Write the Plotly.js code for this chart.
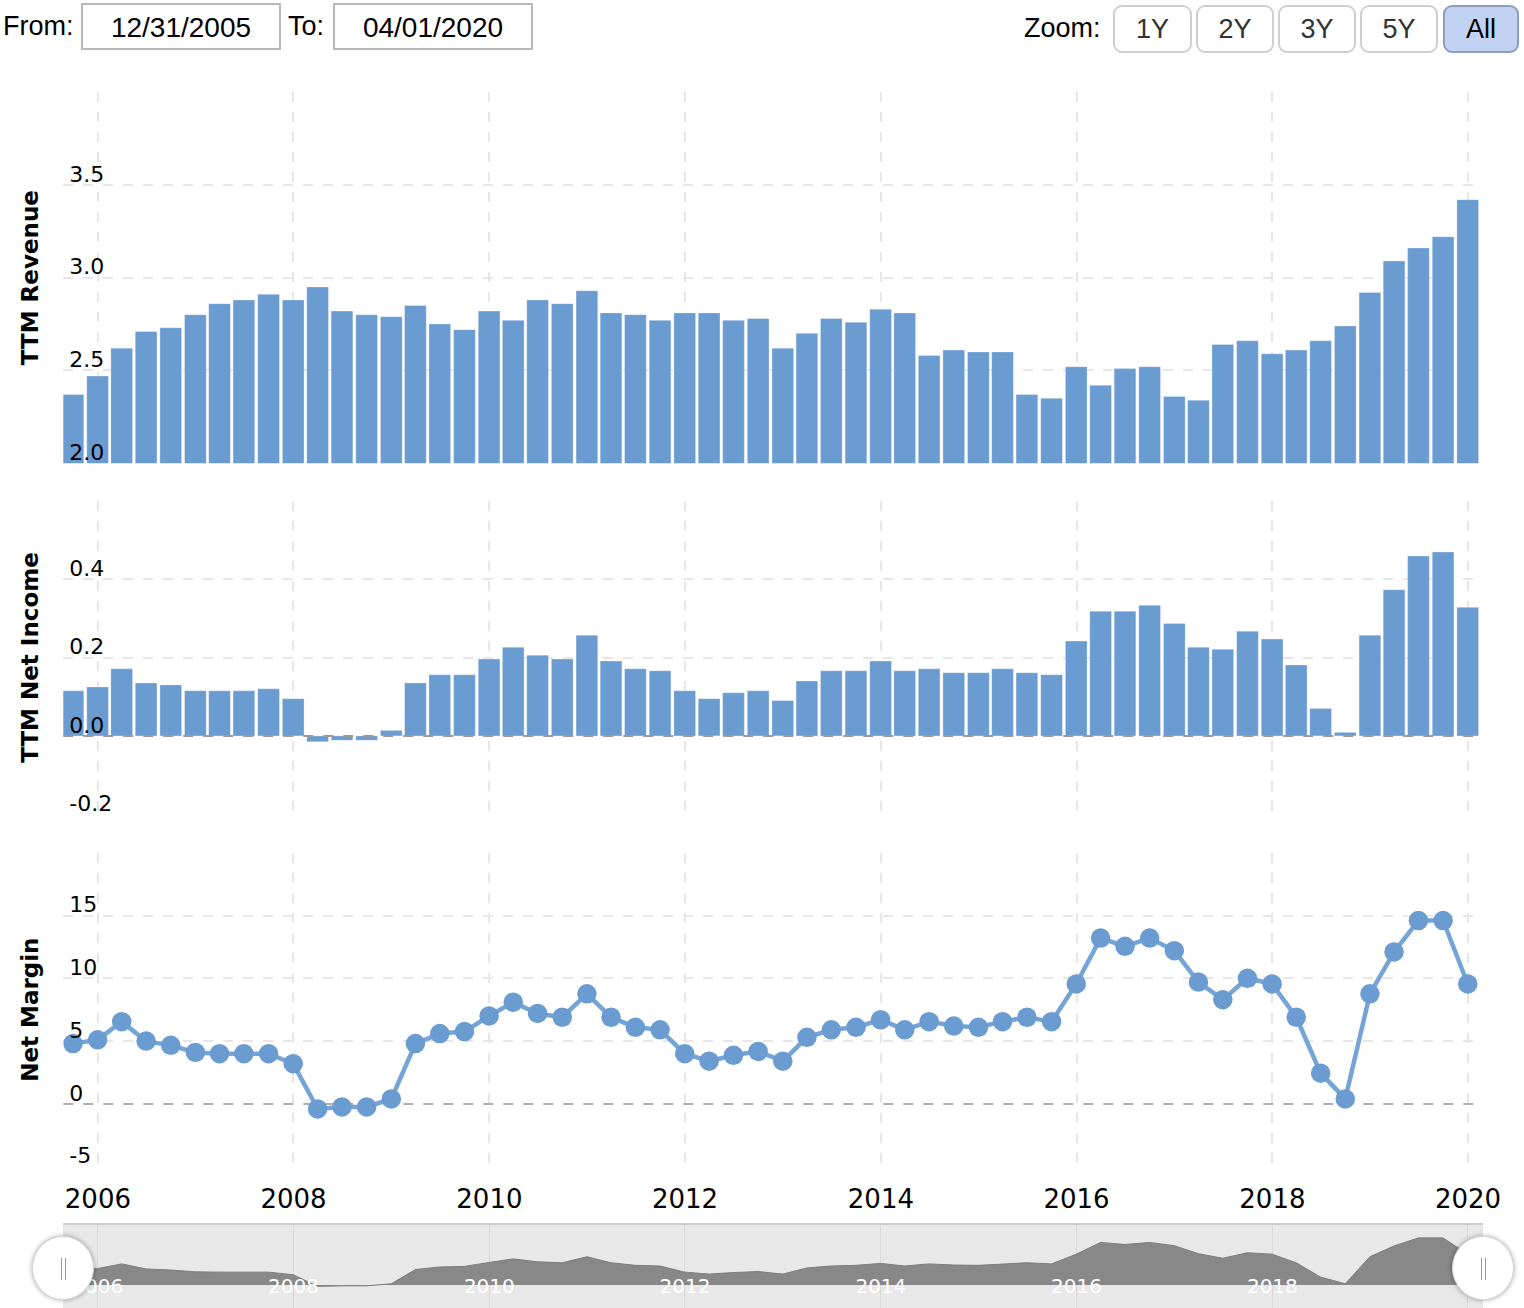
<!DOCTYPE html>
<html>
<head>
<meta charset="utf-8">
<script src="https://cdn.plot.ly/plotly-3.0.1.min.js"></script>
<style>
  html, body { margin: 0; padding: 0; background: #fff; overflow: hidden; }
  #wrap { position: relative; width: 1524px; height: 1308px; }
  #chart { position: absolute; left: 0; top: 0; width: 1524px; height: 1308px; }
  .lbl { position: absolute; font-family: 'Liberation Sans', Arial, sans-serif; font-size: 27px; color: #000; line-height: 1; }
  .box { position: absolute; top: 3px; height: 43px; width: 196px; border: 2px solid #b9b9b9; box-sizing: content-box;
         font-family: 'Liberation Sans', Arial, sans-serif; font-size: 28px; color: #000; text-align: center; line-height: 45px; background: #fff; }
  .btn { position: absolute; top: 5px; height: 44px; border: 2px solid #cfcfcf; border-radius: 9px; background: #fff;
         font-family: 'Liberation Sans', Arial, sans-serif; font-size: 27px; color: #333; text-align: center; line-height: 44px; box-sizing: content-box; }
  .btn.sel { background: #c2d2f2; border-color: #8e9dbf; color: #000; }
  .handle { position: absolute; width: 62px; height: 64px; border-radius: 50%; background: #fff;
            box-shadow: 0 0 5px rgba(0,0,0,0.35); border: 1px solid #d6d6d6; box-sizing: border-box; z-index: 5; }
  .handle .bar1, .handle .bar2 { position: absolute; top: 21px; width: 1px; height: 22px; background: #999; }
  .handle .bar1 { left: 28px; } .handle .bar2 { left: 32px; }
</style>
</head>
<body>
<div id="wrap">
  <div id="chart"></div>
  <div class="lbl" style="left:3px; top:13px;">From:</div>
  <div class="box" style="left:81px;">12/31/2005</div>
  <div class="lbl" style="left:288px; top:13px;">To:</div>
  <div class="box" style="left:333px;">04/01/2020</div>
  <div class="lbl" style="left:1024px; top:15px;">Zoom:</div>
  <div class="btn" style="left:1113px; width:75px;">1Y</div>
  <div class="btn" style="left:1196px; width:74px;">2Y</div>
  <div class="btn" style="left:1278px; width:74px;">3Y</div>
  <div class="btn" style="left:1360px; width:74px;">5Y</div>
  <div class="btn sel" style="left:1443px; width:72px;">All</div>
  <div class="handle" style="left:32px; top:1236px;"><div class="bar1"></div><div class="bar2"></div></div>
  <div class="handle" style="left:1452px; top:1236px;"><div class="bar1"></div><div class="bar2"></div></div>
</div>
<script>
// ---- data (quarter-end dates) ----
const dates = [
  '2005-09-30','2005-12-31',
  '2006-03-31','2006-06-30','2006-09-30','2006-12-31',
  '2007-03-31','2007-06-30','2007-09-30','2007-12-31',
  '2008-03-31','2008-06-30','2008-09-30','2008-12-31',
  '2009-03-31','2009-06-30','2009-09-30','2009-12-31',
  '2010-03-31','2010-06-30','2010-09-30','2010-12-31',
  '2011-03-31','2011-06-30','2011-09-30','2011-12-31',
  '2012-03-31','2012-06-30','2012-09-30','2012-12-31',
  '2013-03-31','2013-06-30','2013-09-30','2013-12-31',
  '2014-03-31','2014-06-30','2014-09-30','2014-12-31',
  '2015-03-31','2015-06-30','2015-09-30','2015-12-31',
  '2016-03-31','2016-06-30','2016-09-30','2016-12-31',
  '2017-03-31','2017-06-30','2017-09-30','2017-12-31',
  '2018-03-31','2018-06-30','2018-09-30','2018-12-31',
  '2019-03-31','2019-06-30','2019-09-30','2019-12-31'
];
const ttmRevenue = [
  2.37, 2.47,
  2.62, 2.71, 2.73, 2.80,
  2.86, 2.88, 2.91, 2.88,
  2.95, 2.82, 2.80, 2.79,
  2.85, 2.75, 2.72, 2.82,
  2.77, 2.88, 2.86, 2.93,
  2.81, 2.80, 2.77, 2.81,
  2.81, 2.77, 2.78, 2.62,
  2.70, 2.78, 2.76, 2.83,
  2.81, 2.58, 2.61, 2.60,
  2.60, 2.37, 2.35, 2.52,
  2.42, 2.51, 2.52, 2.36,
  2.34, 2.64, 2.66, 2.59,
  2.61, 2.66, 2.74, 2.92,
  3.09, 3.16, 3.22, 3.42
];
const ttmNetIncome = [
  0.115, 0.125,
  0.171, 0.135, 0.130, 0.115,
  0.115, 0.115, 0.120, 0.095,
  -0.015, -0.011, -0.011, 0.014,
  0.135, 0.156, 0.156, 0.196,
  0.226, 0.206, 0.196, 0.257,
  0.191, 0.171, 0.166, 0.115,
  0.095, 0.110, 0.115, 0.090,
  0.140, 0.166, 0.166, 0.191,
  0.166, 0.171, 0.161, 0.161,
  0.171, 0.161, 0.156, 0.242,
  0.318, 0.318, 0.333, 0.287,
  0.226, 0.221, 0.267, 0.247,
  0.181, 0.070, 0.009, 0.257,
  0.373, 0.459, 0.469, 0.328
];
const netMargin = [
  4.80, 5.10,
  6.55, 5.00, 4.66, 4.10,
  4.00, 4.00, 4.00, 3.20,
  -0.40, -0.24, -0.24, 0.40,
  4.80, 5.60, 5.76, 7.00,
  8.10, 7.20, 6.90, 8.76,
  6.90, 6.10, 5.90, 4.00,
  3.40, 3.87, 4.18, 3.40,
  5.30, 5.90, 6.10, 6.70,
  5.90, 6.55, 6.20, 6.10,
  6.55, 6.90, 6.55, 9.55,
  13.20, 12.55, 13.20, 12.20,
  9.70, 8.30, 10.00, 9.55,
  6.90, 2.45, 0.40, 8.76,
  12.10, 14.60, 14.60, 9.55
];
const revTickVals = [2.0, 2.5, 3.0, 3.5, 4.0];
const revTickText = ['2.0', '2.5', '3.0', '3.5', ''];
const niTickVals = [-0.2, 0.0, 0.2, 0.4, 0.6];
const niTickText = ['-0.2', '0.0', '0.2', '0.4', ''];
const nmTickVals = [-5, 0, 5, 10, 15, 20];
const nmTickText = ['-5', '0', '5', '10', '15', ''];
const nmLightGridVals = [-5, 5, 10, 15, 20];

// ---- styling ----
const W = 1524, H = 1308;
const blue = 'rgb(106,155,209)';
const gridStyle = { showgrid: true, gridcolor: '#e6e6e6', gridwidth: 2, griddash: '10px,10px', zeroline: false, showline: false };
const py = (top, bottom) => [1 - bottom / H, 1 - top / H];

const traces = [
  { type: 'bar', x: dates, y: ttmRevenue, xaxis: 'x', yaxis: 'y',
    marker: { color: blue, line: { color: 'rgba(255,255,255,0.3)', width: 1 } }, hoverinfo: 'x+y' },
  { type: 'bar', x: dates, y: ttmNetIncome, xaxis: 'x', yaxis: 'y2',
    marker: { color: blue, line: { color: 'rgba(255,255,255,0.3)', width: 1 } }, hoverinfo: 'x+y' },
  { type: 'scatter', mode: 'lines+markers', x: dates, y: netMargin, xaxis: 'x', yaxis: 'y3',
    line: { color: '#75a4d7', width: 4.5 }, marker: { color: blue, size: 19.5 }, hoverinfo: 'x+y' },
  { type: 'scatter', mode: 'lines', x: dates, y: netMargin, xaxis: 'x2', yaxis: 'y4',
    fill: 'tozeroy', fillcolor: '#888888', line: { color: '#7c7c7c', width: 1 }, hoverinfo: 'skip' }
];

const yCommon = (vals, text) => Object.assign({}, gridStyle, {
  anchor: 'x', tickmode: 'array', tickvals: vals, ticktext: text,
  ticklabelposition: 'inside', ticklabelshift: -11, ticklabelstandoff: 3, ticklabeloverflow: 'allow',
  ticks: '', tickfont: { family: 'DejaVu Sans', size: 22, color: '#000' },
  automargin: false, fixedrange: true
});
const yTitle = (t) => ({ text: t, font: { family: 'DejaVu Sans', size: 23, color: '#000', weight: 'bold' }, standoff: 24 });

const layout = {
  width: W, height: H,
  margin: { l: 0, r: 0, t: 0, b: 0 },
  paper_bgcolor: '#fff', plot_bgcolor: 'rgba(0,0,0,0)',
  showlegend: false, bargap: 0.1,
  font: { family: 'DejaVu Sans', color: '#000' },
  xaxis: Object.assign({}, gridStyle, {
    type: 'date', domain: [63.3 / W, 1479 / W], range: ['2005-08-25', '2020-02-11'], anchor: 'y3',
    tick0: '2006-01-01', dtick: 'M24', tickformat: '%Y', ticks: '', ticklabeloverflow: 'allow',
    tickfont: { family: 'DejaVu Sans', size: 26, color: '#000' }, ticklabelstandoff: 14,
    automargin: false, fixedrange: true
  }),
  yaxis: Object.assign(yCommon(revTickVals, revTickText), { domain: py(92, 463.3), range: [2, 4], title: yTitle('TTM Revenue') }),
  yaxis2: Object.assign(yCommon(niTickVals, niTickText), { domain: py(500.7, 814.3), range: [-0.2, 0.6], title: yTitle('TTM Net Income') }),
  yaxis3: Object.assign(yCommon(nmTickVals, nmTickText), {
    domain: py(852.7, 1166.7), range: [-5, 20], title: yTitle('Net Margin'), showgrid: false,
    minor: { tickmode: 'array', tickvals: nmLightGridVals, showgrid: true, gridcolor: '#e6e6e6', gridwidth: 2,
             griddash: '10px,10px', ticks: '' }
  }),
  xaxis2: {
    type: 'date', domain: [63 / W, 1483 / W], range: ['2005-08-24', '2020-02-26'], anchor: 'y4',
    tick0: '2006-01-01', dtick: 'M24', tickformat: '%Y', ticks: '',
    showgrid: true, gridcolor: '#d9d9d9', gridwidth: 1, zeroline: false, showline: false,
    ticklabelposition: 'inside', ticklabelstandoff: 8, ticklabeloverflow: 'hide past domain',
    tickfont: { family: 'DejaVu Sans', size: 20, color: '#fff' }, automargin: false, fixedrange: true
  },
  yaxis4: { domain: [0, 1 - 1224 / H], range: [-7.1, 18.9], anchor: 'x2', showgrid: false, zeroline: false,
    showticklabels: false, ticks: '', showline: false, fixedrange: true },
  shapes: [
    { type: 'rect', layer: 'below', xref: 'paper', yref: 'paper', x0: 63 / W, x1: 1483 / W, y0: 0, y1: 1 - 1224 / H,
      fillcolor: '#e8e8e8', line: { width: 0 } },
    { type: 'line', layer: 'above', xref: 'paper', yref: 'paper', x0: 63 / W, x1: 1483 / W, y0: 1 - 1224 / H, y1: 1 - 1224 / H,
      line: { color: '#cccccc', width: 2 } },
    { type: 'line', layer: 'above', xref: 'x domain', yref: 'y2', x0: 0, x1: 1, y0: 0, y1: 0,
      line: { color: '#9a9a9a', width: 2, dash: '10px,10px' } },
    { type: 'line', layer: 'below', xref: 'x domain', yref: 'y3', x0: 0, x1: 1, y0: 0, y1: 0,
      line: { color: '#b0b0b0', width: 2, dash: '10px,10px' } }
  ]
};

Plotly.newPlot('chart', traces, layout, { displayModeBar: false, responsive: false });
</script>
</body>
</html>
